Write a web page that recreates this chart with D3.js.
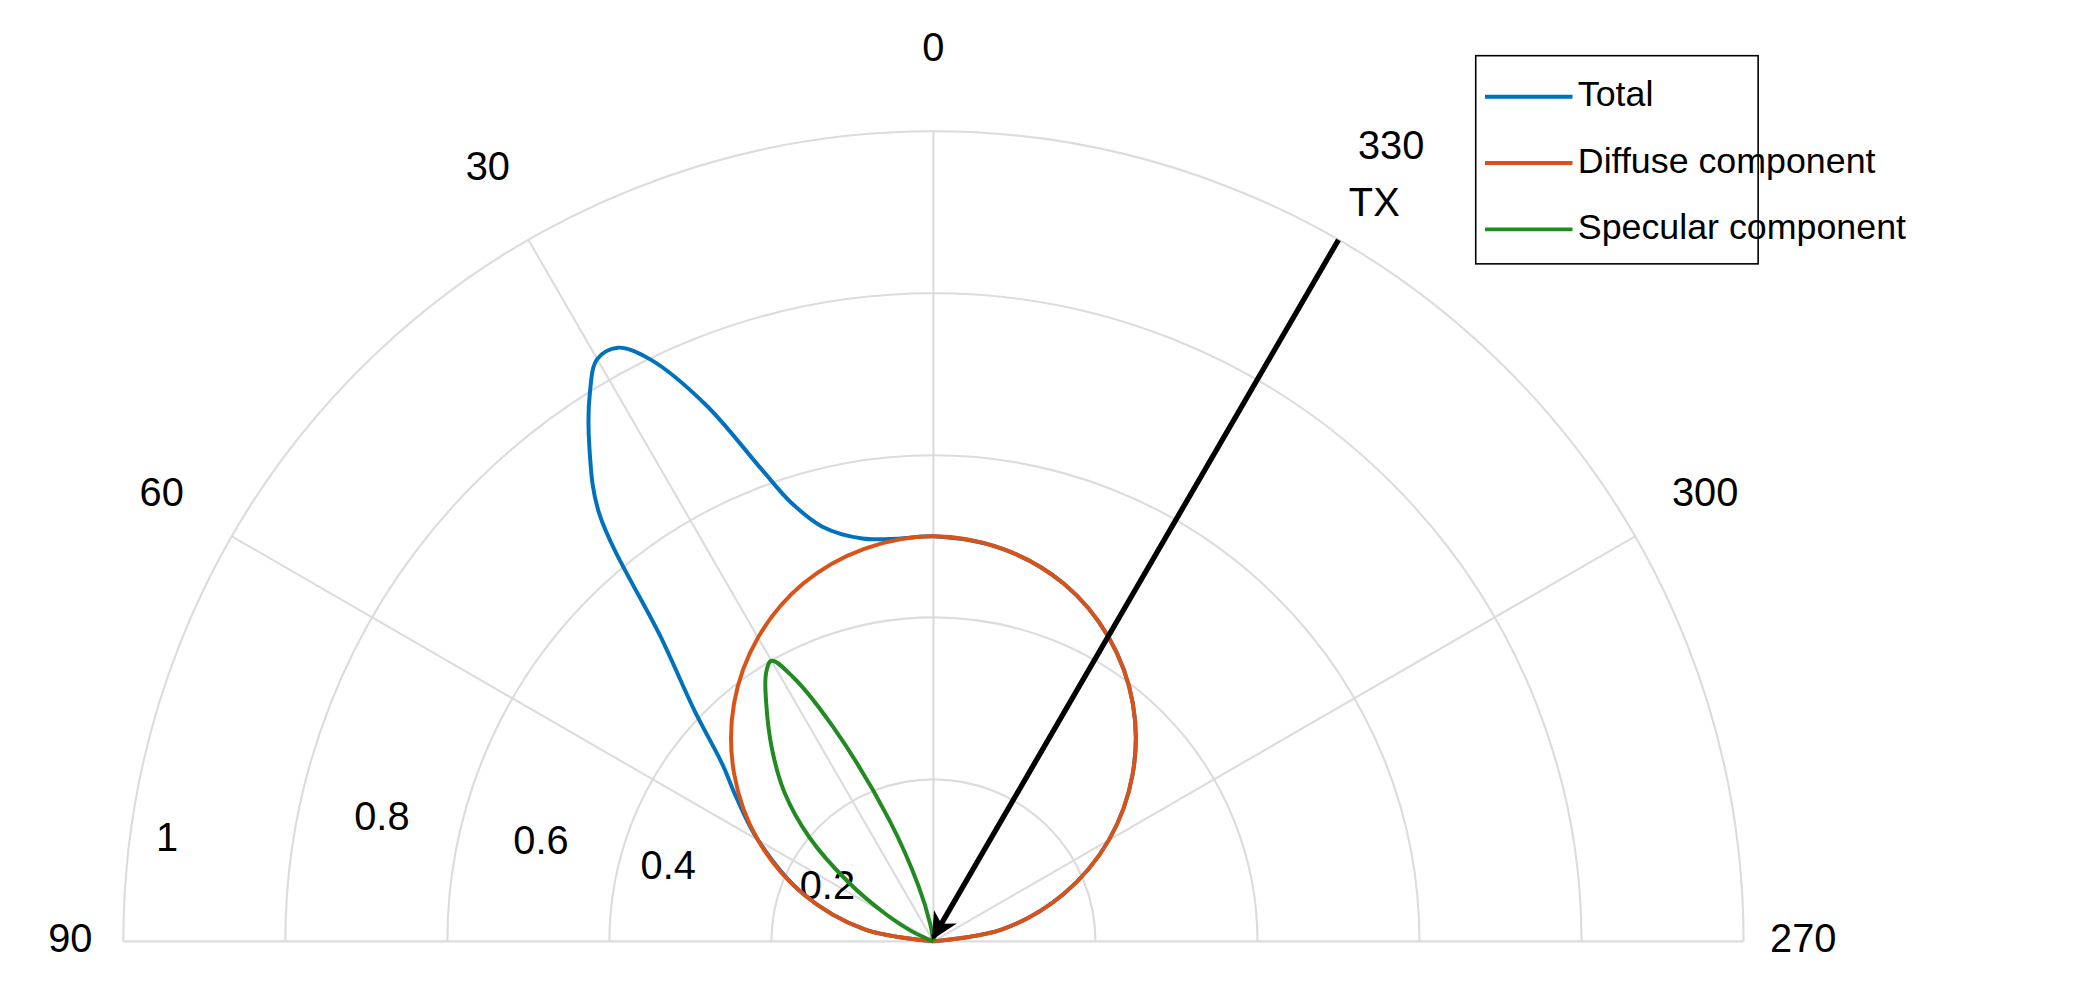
<!DOCTYPE html>
<html><head><meta charset="utf-8">
<script src="https://cdn.jsdelivr.net/npm/d3@7"></script>
<style>body{margin:0;background:#fff}text{font-family:"Liberation Sans",Arial,sans-serif}</style>
</head><body><svg id="c" width="2079" height="990"></svg>
<script>
const angleTicks=[90,60,30,0,330,300,270];
const radialTicks=[0.2,0.4,0.6,0.8,1];
const diffuseAng=[-90,-80,-70,-60,-50,-40,-30,-20,-10,0,10,20,30,40,50,60,70,80,90];
const diffuseVal=[0,0.087,0.171,0.25,0.321,0.383,0.433,0.47,0.492,0.5,0.492,0.47,0.433,0.383,0.321,0.25,0.171,0.087,0];
const specAng=[0,10,15,20,25,28,30,32,35,40,45,50,55,60,65,70];
const specVal=[0,0.02,0.07,0.16,0.29,0.37,0.40,0.39,0.36,0.31,0.26,0.2,0.13,0.07,0.03,0];
const totalAng=[-90,-80,-70,-60,-50,-40,-30,-20,-10,0,5,10,15,18,20,23,26,28,30,32,35,38,42,46,50,54,60,70,80,90];
const totalVal=[0,0.087,0.171,0.25,0.321,0.383,0.433,0.47,0.492,0.5,0.499,0.505,0.53,0.57,0.62,0.72,0.80,0.83,0.83,0.80,0.74,0.67,0.50,0.41,0.34,0.30,0.25,0.171,0.087,0];
const legendNames=["Total","Diffuse component","Specular component"];
const colors=["#0072BD","#D95319","#218A21"];
const txAngle=330, txR=1.0;

const S=2079/1568;
const svg=d3.select("#c"),cx=704,cy=710,R=611;
const root=svg.append("g").attr("transform",`scale(${S})`);
const r=d3.scaleLinear().domain([0,1]).range([0,R]);
const g=root.append("g").attr("transform",`translate(${cx},${cy})`);
const rad=a=>-a*Math.PI/180;
const px=(a,v)=>[r(v)*Math.sin(rad(a)),-r(v)*Math.cos(rad(a))];
const arc=d3.arc().startAngle(-Math.PI/2).endAngle(Math.PI/2);
radialTicks.forEach(t=>g.append("path").attr("d",arc({innerRadius:r(t),outerRadius:r(t)})).attr("fill","none").attr("stroke","#dcdcdc").attr("stroke-width",1.6));
angleTicks.forEach(a=>{const p=px(a,1);g.append("line").attr("x1",0).attr("y1",0).attr("x2",p[0]).attr("y2",p[1]).attr("stroke","#dcdcdc").attr("stroke-width",1.6);});
angleTicks.forEach(a=>{const p=px(a,a==330?1.13:1.1);let x=p[0],y=p[1];if(a==90){x=-r(1)-40;y=0}if(a==270){x=r(1)+45;y=0}
 g.append("text").attr("x",x).attr("y",y).attr("text-anchor","middle").attr("dominant-baseline","middle").attr("font-size",30).text(a);});
const rlab={0.2:[-80,-40],0.4:[-200,-55],0.6:[-296,-74],0.8:[-416,-92],1:[-578,-76]};
radialTicks.forEach(t=>g.append("text").attr("x",rlab[t][0]).attr("y",rlab[t][1]).attr("text-anchor","middle").attr("dominant-baseline","middle").attr("font-size",30).text(t));
const line=d3.lineRadial().curve(d3.curveCatmullRom);
function draw(angs,vals,col){g.append("path").attr("d",line(angs.map((a,i)=>[rad(a),r(vals[i])]))).attr("fill","none").attr("stroke",col).attr("stroke-width",3);}
draw(totalAng,totalVal,colors[0]);
draw(diffuseAng,diffuseVal,colors[1]);
draw(specAng,specVal,colors[2]);
svg.append("defs").append("marker").attr("id","ah").attr("viewBox","0 0 10 10").attr("refX",9).attr("refY",5).attr("markerWidth",5).attr("markerHeight",5).attr("orient","auto").append("path").attr("d","M0,0L10,5L0,10L3,5Z").attr("fill","#000");
const tp=px(txAngle,txR);
g.append("line").attr("x1",tp[0]).attr("y1",tp[1]).attr("x2",0).attr("y2",-3).attr("stroke","#000").attr("stroke-width",4).attr("marker-end","url(#ah)");
g.append("text").attr("x",tp[0]+27).attr("y",tp[1]-18).attr("text-anchor","middle").attr("font-size",30).text("TX");
const L=root.append("g");
L.append("rect").attr("x",1113).attr("y",42).attr("width",213).attr("height",157).attr("fill","#fff").attr("stroke","#000").attr("stroke-width",1.2);
legendNames.forEach((n,i)=>{const y=73+i*50;
 L.append("line").attr("x1",1120).attr("x2",1186).attr("y1",y).attr("y2",y).attr("stroke",colors[i]).attr("stroke-width",3);
 L.append("text").attr("x",1190).attr("y",y).attr("dominant-baseline","middle").attr("font-size",27).text(n);});
</script></body></html>
